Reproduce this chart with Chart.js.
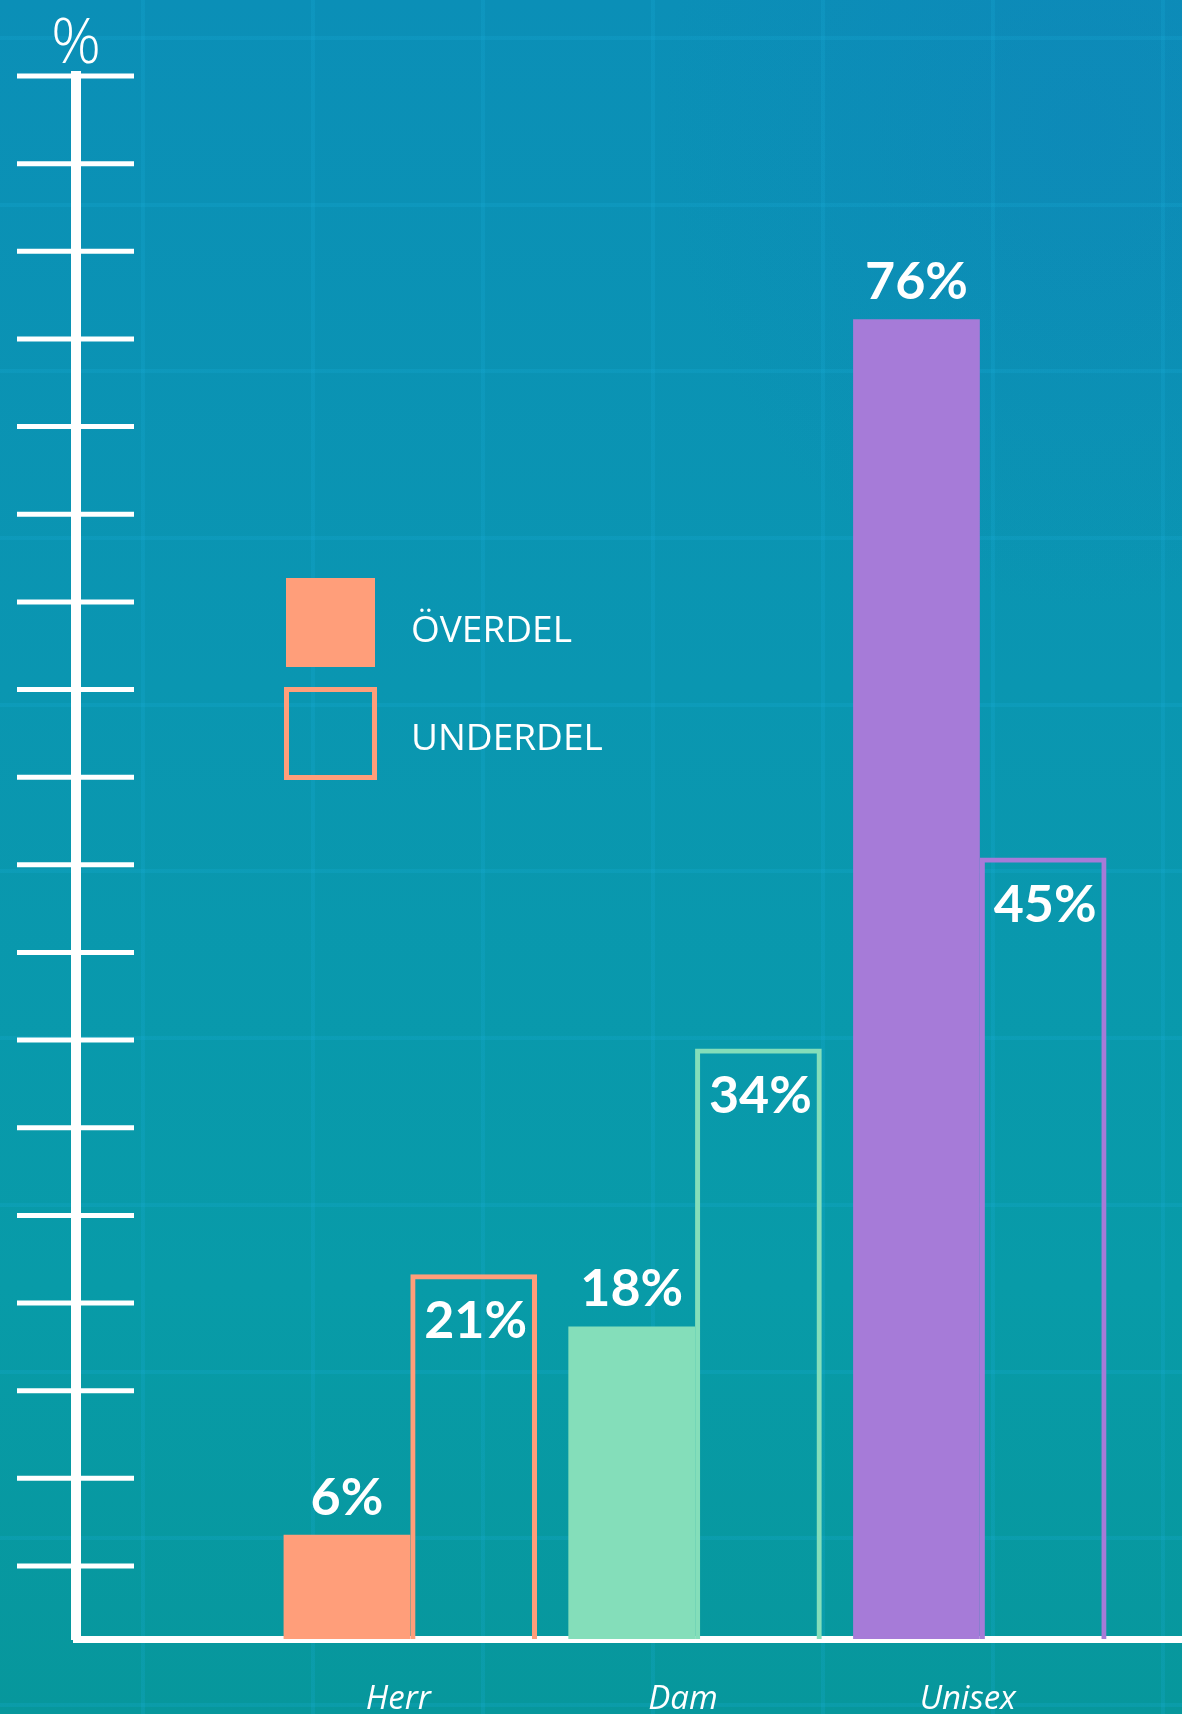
<!DOCTYPE html>
<html>
<head>
<meta charset="utf-8">
<script src="https://cdn.jsdelivr.net/npm/chart.js@4/dist/chart.umd.min.js"></script>
<style>
  html, body { margin: 0; padding: 0; }
  body { width: 1182px; height: 1714px; overflow: hidden; }
  #wrap {
    position: relative; width: 1182px; height: 1714px;
    background-color: #0994ad;
    background-image:
      repeating-linear-gradient(90deg, transparent 0 141px, rgba(25,175,220,0.2) 141px 145px, transparent 145px 170px),
      repeating-linear-gradient(180deg, transparent 0 36px, rgba(25,175,220,0.2) 36px 40px, transparent 40px 166.7px),
      radial-gradient(ellipse 600px 700px at 1080px 120px, rgba(20,120,190,0.25), rgba(20,120,190,0) 70%),
      linear-gradient(180deg, #0b8fb7 0%, #0a96b1 40%, #089ba8 75%, #07979c 100%);
  }
  canvas { position: absolute; left: 0; top: 0; }
  .txt { position: absolute; color: #ffffff; font-family: "Open Sans", sans-serif; white-space: nowrap; }
  #pct { left: 26px; width: 100px; text-align: center; top: 8px; font-size: 62px; line-height: 62px; font-weight: 300; }
  .lg { left: 411px; font-size: 37px; line-height: 37px; font-weight: 400; }
  .sw { position: absolute; box-sizing: border-box; }
</style>
</head>
<body>
<div id="wrap">
  <canvas id="c" width="1182" height="1714"></canvas>
  <div class="txt" id="pct">%</div>
  <div class="sw" id="sw1" style="left:286px;top:578px;width:89px;height:89px;"></div>
  <div class="sw" id="sw2" style="left:284px;top:687px;width:93px;height:93px;border:5px solid;"></div>
  <div class="txt lg" id="lg1" style="top:609px;"></div>
  <div class="txt lg" id="lg2" style="top:717px;"></div>
</div>
<script>
// ---- data ----
const categories = ['Herr', 'Dam', 'Unisex'];
const seriesNames = ['ÖVERDEL', 'UNDERDEL'];
const overdelValues = [6, 18, 76];
const underdelValues = [21, 34, 45];
const valueLabels = ['%'];
const barColors = ['#ff9e7a', '#84deba', '#a67bd8'];

// legend (HTML)
document.getElementById('sw1').style.background = barColors[0];
document.getElementById('sw2').style.borderColor = barColors[0];
document.getElementById('lg1').textContent = seriesNames[0];
document.getElementById('lg2').textContent = seriesNames[1];
document.getElementById('pct').textContent = valueLabels[0];

const toPoints = vals => vals.map((v, i) => ({ x: i, y: v }));

const tickMarks = {
  id: 'tickMarks',
  afterDraw(chart) {
    const tk = chart.scales.tk;
    const ax = chart.chartArea.left;
    const ctx = chart.ctx;
    ctx.save();
    ctx.strokeStyle = '#ffffff';
    ctx.lineWidth = 5;
    tk.ticks.forEach(t => {
      const y = tk.getPixelForValue(t.value);
      ctx.beginPath();
      ctx.moveTo(ax - 59, y);
      ctx.lineTo(ax + 58, y);
      ctx.stroke();
    });
    ctx.restore();
  }
};

const valueText = {
  id: 'valueText',
  afterDatasetsDraw(chart) {
    const ctx = chart.ctx;
    ctx.save();
    ctx.fillStyle = '#ffffff';
    ctx.font = 'bold 52px Lato, "Open Sans", sans-serif';
    ctx.textAlign = 'center';
    ctx.textBaseline = 'alphabetic';
    chart.data.datasets.forEach((ds, di) => {
      const meta = chart.getDatasetMeta(di);
      meta.data.forEach((el, i) => {
        const txt = ds.data[i].y + '%';
        if (di === 0) {
          ctx.fillText(txt, el.x, el.y - 20);
        } else {
          ctx.fillText(txt, el.x + 2, el.y + 64);
        }
      });
    });
    ctx.restore();
  }
};

new Chart(document.getElementById('c'), {
  type: 'bar',
  data: {
    datasets: [
      {
        label: seriesNames[0],
        data: toPoints(overdelValues),
        backgroundColor: barColors,
        borderWidth: 0,
        categoryPercentage: 0.89,
        barPercentage: 1.0
      },
      {
        label: seriesNames[1],
        data: toPoints(underdelValues),
        backgroundColor: 'rgba(0,0,0,0)',
        borderColor: barColors,
        borderWidth: 5,
        borderSkipped: 'start',
        categoryPercentage: 0.89,
        barPercentage: 1.0
      }
    ]
  },
  options: {
    responsive: false,
    devicePixelRatio: 1,
    animation: false,
    layout: { padding: { top: 76, right: 0, left: 0, bottom: 0 } },
    plugins: { legend: { display: false }, tooltip: { enabled: false } },
    scales: {
      x: {
        type: 'linear',
        offset: false,
        min: -1.174,
        max: 2.71,
        grid: { display: false },
        border: { display: true, color: '#ffffff', width: 7 },
        ticks: {
          stepSize: 1,
          includeBounds: false,
          autoSkip: false,
          maxRotation: 0,
          padding: 33,
          labelOffset: -12,
          color: '#ffffff',
          font: { family: '"Open Sans", Lato, sans-serif', size: 33, style: 'italic', weight: '400' },
          callback: v => (Number.isInteger(v) && categories[v] !== undefined) ? categories[v] : ''
        },
        afterFit: s => { s.height = 75; }
      },
      y: {
        type: 'linear',
        position: 'left',
        min: 0,
        max: 90,
        grid: { display: false },
        border: { display: true, color: '#ffffff', width: 10 },
        ticks: { display: false },
        afterFit: s => { s.width = 76; }
      },
      tk: {
        axis: 'y',
        type: 'linear',
        position: 'left',
        display: false,
        min: -0.833,
        max: 17,
        ticks: { stepSize: 1, includeBounds: false }
      }
    }
  },
  plugins: [tickMarks, valueText]
});
</script>
</body>
</html>
